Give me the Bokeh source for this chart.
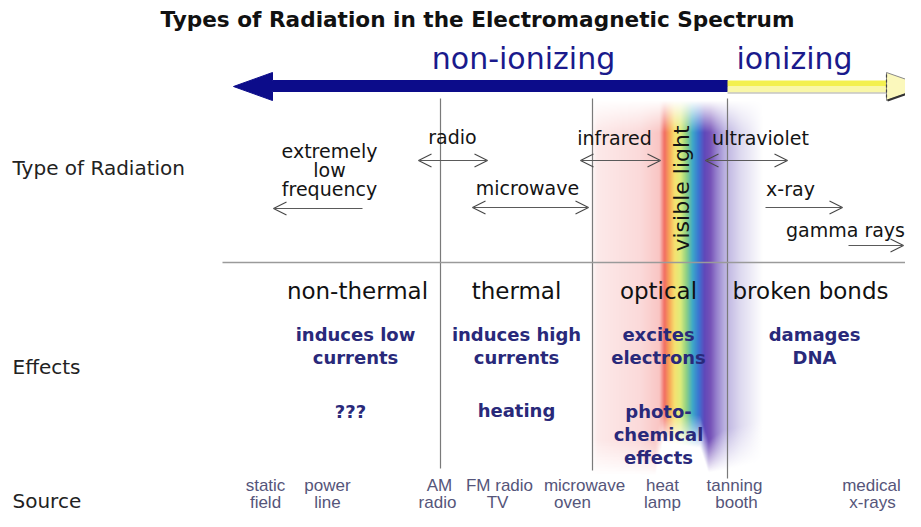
import numpy as np
from bokeh.plotting import figure
from bokeh.models import Range1d, Arrow, OpenHead
from bokeh.core.properties import value
from bokeh.embed import file_html
from bokeh.resources import INLINE

# ---------------- content ----------------
title = "Types of Radiation in the Electromagnetic Spectrum"
row_labels = ["Type of Radiation", "Effects", "Source"]
band_labels = ["non-ionizing", "ionizing"]
type_labels = ["extremely\nlow\nfrequency", "radio", "microwave", "infrared",
               "ultraviolet", "x-ray", "gamma rays"]
visible_label = "visible light"
effect_classes = ["non-thermal", "thermal", "optical", "broken bonds"]
effects_primary = ["induces low\ncurrents", "induces high\ncurrents",
                   "excites\nelectrons", "damages\nDNA"]
effects_secondary = ["???", "heating", "photo-\nchemical\neffects"]
sources = ["static\nfield", "power\nline", "AM\nradio", "FM radio\nTV",
           "microwave\noven", "heat\nlamp", "tanning\nbooth", "medical\nx-rays"]

# ---------------- layout (screen pixel positions) ----------------
W, H = 905, 511
def Y(s):  # screen y -> data y
    return 527 - s

row_label_y = [167, 366, 500]
band_label_x = [523, 794]
type_x = [329, 452, 527, 614, 760, 790, 845]
type_y = [169, 136, 187, 137, 137, 188, 229]
class_x = [357, 516, 658, 810]
prim_x = [355, 516, 658, 814]
sec_x = [350, 516, 658]
src_x = [[265, 265], [327, 327], [439, 437], [499, 497], [584, 572],
         [662, 662], [734, 736], [871, 872]]

p = figure(width=W, height=H, output_backend="svg", toolbar_location=None,
           x_range=Range1d(0, 905), y_range=Range1d(16, 527),
           min_border=0, outline_line_color=None, background_fill_color="white")
p.axis.visible = False
p.grid.visible = False

# ---------------- spectrum shading ----------------
stop_x = [590, 597, 640, 659, 664, 669, 674, 680, 686, 692, 698, 704, 710, 716, 724, 740, 762]
stop_rgb = [(255, 255, 255), (253, 234, 234), (251, 218, 218), (249, 198, 196),
            (242, 108, 98), (248, 168, 88), (246, 224, 112), (222, 236, 122),
            (142, 208, 132), (62, 170, 200), (58, 118, 210), (96, 72, 186),
            (118, 82, 184), (150, 128, 205), (186, 176, 224), (222, 218, 240),
            (255, 255, 255)]
bot_x = [590, 655, 662, 700, 708, 722, 770]
bot_s = [440, 440, 410, 415, 440, 430, 420]
bot_e = [475, 475, 442, 448, 472, 470, 460]
img_x0, img_w, img_top, img_h = 590, 190, 96, 384
cols = np.arange(img_x0, img_x0 + img_w) + 0.5
rows = (img_top + img_h) - np.arange(img_h) - 0.5
rgb = np.array(stop_rgb, dtype=float)
Rc = np.interp(cols, stop_x, rgb[:, 0])
Gc = np.interp(cols, stop_x, rgb[:, 1])
Bc = np.interp(cols, stop_x, rgb[:, 2])
top_a = np.clip((rows - 100) / 32.0, 0, 1)[:, None]
bs = np.interp(cols, bot_x, bot_s)[None, :]
be = np.interp(cols, bot_x, bot_e)[None, :]
bot_a = np.clip((be - rows[:, None]) / (be - bs), 0, 1)
alpha = top_a * bot_a
img = np.zeros((img_h, img_w, 4), dtype=np.uint8)
img[..., 0] = Rc[None, :]
img[..., 1] = Gc[None, :]
img[..., 2] = Bc[None, :]
img[..., 3] = (alpha * 255).astype(np.uint8)
p.image_rgba(image=[img.view(np.uint32).reshape(img_h, img_w)],
             x=img_x0, y=Y(img_top + img_h), dw=img_w, dh=img_h)

# ---------------- separators ----------------
sep_x = [440, 592, 727]
sep_bottom = [468, 470, 478]
p.segment(x0=sep_x, y0=[Y(98)] * 3, x1=sep_x, y1=[Y(b) for b in sep_bottom],
          line_color="#7a7a7a", line_width=1.2)
p.segment(x0=[222], y0=[Y(262)], x1=[905], y1=[Y(262)], line_color="#9a9a9a", line_width=1.6)

# ---------------- big ionizing arrow ----------------
p.patch([233, 272, 272, 727, 727, 272, 272],
        [Y(86), Y(72), Y(80), Y(80), Y(91), Y(91), Y(100)],
        fill_color="#0c0c8a", line_color="#0c0c8a", line_width=1)
p.quad(left=727, right=886, top=Y(80), bottom=Y(86), fill_color="#f3f04e", line_color=None)
p.quad(left=727, right=886, top=Y(86), bottom=Y(92), fill_color="#f9f7a8", line_color=None)
p.segment(x0=[727], y0=[Y(92.5)], x1=[886], y1=[Y(92.5)], line_color="#a8a8a8", line_width=1.2)
p.patch([886, 926, 886], [Y(72), Y(86), Y(100)], fill_color="#fbf8bc", line_color="#888888", line_width=1)
p.segment(x0=[887], y0=[Y(100)], x1=[921], y1=[Y(88)], line_color="#333333", line_width=2.2)
p.segment(x0=[886], y0=[Y(74)], x1=[886], y1=[Y(98)], line_color="#444444", line_width=1.2, line_dash="3 2")

# ---------------- small type arrows ----------------
arr_x0 = [362, 418, 472, 580, 705, 765, 848]
arr_x1 = [273, 487, 588, 660, 787, 842, 903]
arr_y = [208, 160, 207, 160, 160, 207, 245]
arr_both = [False, True, True, True, True, False, False]
for x0, x1, yy, both in zip(arr_x0, arr_x1, arr_y, arr_both):
    head = dict(size=13, line_color="#4a4a4a", line_width=1.2)
    p.add_layout(Arrow(x_start=x0, y_start=Y(yy), x_end=x1, y_end=Y(yy),
                       start=OpenHead(**head) if both else None,
                       end=OpenHead(**head),
                       line_color="#5a5a5a", line_width=1.2))

# ---------------- text helper ----------------
def draw_lines(labels, xs, ys, spacing, font, size, color, style="normal"):
    tx, ty, tt = [], [], []
    for lab, x, y in zip(labels, xs, ys):
        lines = lab.split("\n")
        n = len(lines)
        for i, ln in enumerate(lines):
            xi = x[i] if isinstance(x, (list, tuple)) else x
            tx.append(xi)
            ty.append(Y(y + (i - (n - 1) / 2.0) * spacing))
            tt.append(ln)
    p.text(x=tx, y=ty, text=tt, text_font=value(font), text_font_size=size,
           text_color=color, text_align="center", text_baseline="middle",
           text_font_style=style)

# title
p.text(x=[477], y=[Y(19)], text=[title], text_font=value("DejaVu Sans"),
       text_font_size="21.6px", text_font_style="bold", text_color="#111111",
       text_align="center", text_baseline="middle")

# band labels
p.text(x=band_label_x, y=[Y(58)] * 2, text=band_labels, text_font=value("DejaVu Sans"),
       text_font_size="30px", text_color="#1a1a8c", text_align="center", text_baseline="middle")

# row labels
p.text(x=[12] * 3, y=[Y(v) for v in row_label_y], text=row_labels,
       text_font=value("DejaVu Sans"), text_font_size="20px", text_color="#222222",
       text_align="left", text_baseline="middle")

# type labels
draw_lines(type_labels, type_x, type_y, 19, "DejaVu Sans", "19px", "#141414")
p.text(x=[681], y=[Y(188)], text=[visible_label], angle=np.pi / 2,
       text_font=value("DejaVu Sans"), text_font_size="22px", text_color="#141414",
       text_align="center", text_baseline="middle")

# effects
draw_lines(effect_classes, class_x, [290] * 4, 23, "DejaVu Sans", "23px", "#111111")
draw_lines(effects_primary, prim_x, [345] * 4, 23, "DejaVu Sans", "18px", "#29297a", "bold")
draw_lines(effects_secondary, sec_x, [411, 410, 434], 23, "DejaVu Sans", "18px", "#29297a", "bold")

# sources
draw_lines(sources, src_x, [493] * 8, 17, "Liberation Sans", "17px", "#55557a")

open("out.html", "w").write(file_html(p, INLINE))
